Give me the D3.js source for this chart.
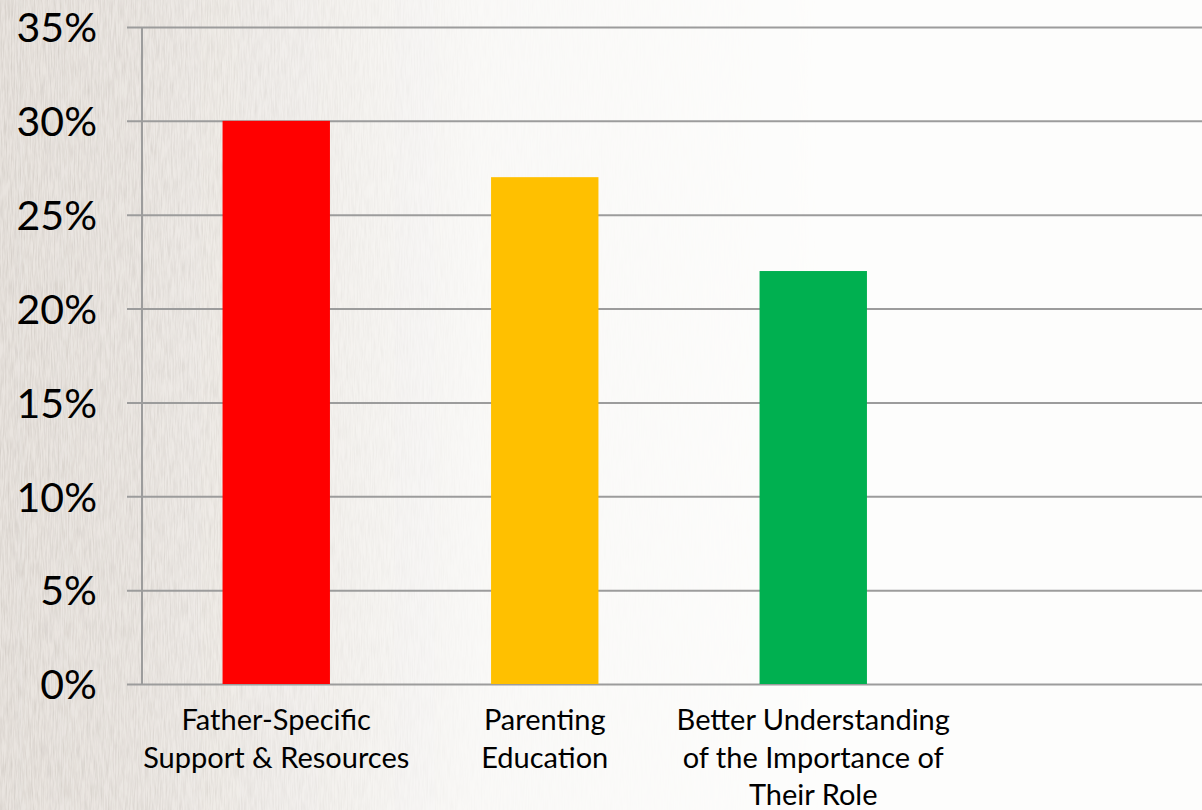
<!DOCTYPE html>
<html>
    <head>
        <title>Father needs</title>
        <script src="https://d3js.org/d3.v7.min.js"></script>
        <style>
            body { margin: 0; padding: 0; overflow: hidden; }
            svg { display: block; }
            .tick-label { font-family: Lato, "Open Sans", sans-serif; font-size: 41px; fill: #000; }
            .cat-label { font-family: Lato, "Open Sans", sans-serif; font-size: 29px; fill: #000; }
        </style>
    </head>
    <body>
        <div id="chart"></div>
        <script>
            // data
            let categories = [
                ["Father-Specific", "Support & Resources"],
                ["Parenting", "Education"],
                ["Better Understanding", "of the Importance of", "Their Role"]
            ];
            let values = [0.30, 0.27, 0.22];
            let colors = ["#ff0000", "#ffc000", "#00b050"];
            let yTicks = [0, 0.05, 0.10, 0.15, 0.20, 0.25, 0.30, 0.35];

            let canvas = { width: 1202, height: 810 };
            let plot = { left: 142, right: 1202, top: 27, bottom: 684, step: 268.5 };

            let svg = d3.select("#chart").append("svg")
                        .attr("width", canvas.width)
                        .attr("height", canvas.height);

            //
            // Paper-ish background, textured on the left and fading to white
            //
            let defs = svg.append("defs");
            let grad = defs.append("linearGradient").attr("id", "fade")
                           .attr("x1", "0").attr("x2", "1").attr("y1", "0").attr("y2", "0");
            grad.append("stop").attr("offset", "0").attr("stop-color", "#fff").attr("stop-opacity", 1);
            grad.append("stop").attr("offset", "0.11").attr("stop-color", "#fff").attr("stop-opacity", 0.9);
            grad.append("stop").attr("offset", "0.4").attr("stop-color", "#fff").attr("stop-opacity", 0.15);
            grad.append("stop").attr("offset", "0.7").attr("stop-color", "#fff").attr("stop-opacity", 0);

            let mask = defs.append("mask").attr("id", "fademask");
            mask.append("rect").attr("width", canvas.width).attr("height", canvas.height)
                .style("fill", "url(#fade)");

            let filt = defs.append("filter").attr("id", "paper")
                           .attr("x", 0).attr("y", 0).attr("width", "100%").attr("height", "100%");
            filt.append("feTurbulence").attr("type", "fractalNoise")
                .attr("baseFrequency", "0.7 0.05").attr("numOctaves", 3).attr("seed", 4)
                .attr("result", "noise");
            filt.append("feColorMatrix").attr("in", "noise").attr("type", "matrix")
                .attr("values", "0 0 0 0 0.6  0 0 0 0 0.56  0 0 0 0 0.52  0 0 0 -1.2 0.8")
                .attr("result", "tint");
            filt.append("feComposite").attr("in", "tint").attr("in2", "SourceGraphic").attr("operator", "in");

            svg.append("rect").attr("width", canvas.width).attr("height", canvas.height)
               .style("fill", "#fdfdfc");

            let bg = svg.append("g").attr("mask", "url(#fademask)");
            bg.append("rect").attr("width", canvas.width).attr("height", canvas.height)
              .style("fill", "#e9e4df");
            bg.append("rect").attr("width", canvas.width).attr("height", canvas.height)
              .style("fill", "#fff").attr("filter", "url(#paper)");

            //
            // Scales
            //
            let x = d3.scaleBand()
                      .domain(d3.range(categories.length))
                      .range([plot.left, plot.left + plot.step * categories.length])
                      .paddingInner(0.6).paddingOuter(0.3);

            let y = d3.scaleLinear().domain([0, 0.35]).range([plot.bottom, plot.top]);

            //
            // Gridlines and y axis
            //
            let yAxis = d3.axisLeft(y)
                          .tickValues(yTicks)
                          .tickSize(-(plot.right - plot.left))
                          .tickPadding(0)
                          .tickFormat(d3.format(".0%"));

            let ag = svg.append("g").attr("transform", "translate(" + plot.left + ",0)").call(yAxis);
            ag.select(".domain").remove();
            ag.selectAll(".tick line")
              .attr("x1", -15)
              .style("stroke", "#9c9c9c").style("stroke-width", "2px");
            ag.selectAll(".tick text")
              .attr("class", "tick-label")
              .attr("x", -45).attr("dy", "0.36em");

            svg.append("line")
               .attr("x1", plot.left).attr("x2", plot.left)
               .attr("y1", plot.top).attr("y2", plot.bottom)
               .style("stroke", "#9c9c9c").style("stroke-width", "2px");

            //
            // Bars
            //
            svg.append("g").selectAll("rect")
               .data(values)
               .join("rect")
               .attr("x", (d, i) => x(i))
               .attr("y", d => y(d))
               .attr("width", x.bandwidth())
               .attr("height", d => y(0) - y(d))
               .style("fill", (d, i) => colors[i]);

            //
            // Category labels
            //
            let labels = svg.append("g").selectAll("text")
                            .data(categories)
                            .join("text")
                            .attr("class", "cat-label")
                            .attr("text-anchor", "middle")
                            .attr("x", (d, i) => x(i) + x.bandwidth() / 2)
                            .attr("y", plot.bottom + 46);

            labels.selectAll("tspan")
                  .data(d => d)
                  .join("tspan")
                  .attr("x", function() { return d3.select(this.parentNode).attr("x"); })
                  .attr("dy", (d, i) => i === 0 ? 0 : 37.5)
                  .text(d => d);
        </script>
    </body>
</html>
